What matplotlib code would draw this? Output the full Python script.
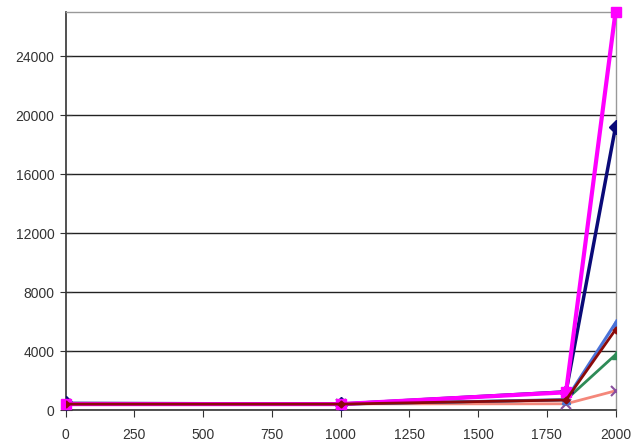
import matplotlib
matplotlib.use("Agg")
import matplotlib.pyplot as plt

plt.rcParams["font.family"] = ["Liberation Sans", "DejaVu Sans"]

years = [0, 1000, 1820, 2000]
magenta_sq = [400, 400, 1200, 27000]
navy_dia = [450, 400, 1230, 19200]
blue_tri = [400, 400, 700, 5900]
darkred = [400, 400, 680, 5450]
green_tri = [400, 400, 690, 3750]
salmon_x = [425, 416, 420, 1300]

x_ticks = list(range(0, 2001, 250))
y_ticks = list(range(0, 24001, 4000))

fig = plt.figure(figsize=(6.44, 4.46), dpi=100)
ax = fig.add_axes([65.5 / 644, 36 / 446, 550 / 644, 398 / 446])

ax.plot(years, salmon_x, color="#f4877a", lw=2, marker="x", ms=7,
        mec="#8a4f9e", mew=1.5, zorder=3)
ax.plot(years, green_tri, color="#2e8b57", lw=2, marker="^", ms=6, zorder=3)
ax.plot(years, blue_tri, color="#4a72d8", lw=2.2, marker="^", ms=6, zorder=3)
ax.plot(years, navy_dia, color="#0a0a78", lw=2.5, marker="D", ms=7, zorder=5)
ax.plot(years, magenta_sq, color="#ff00ff", lw=3, marker="s", ms=7,
        zorder=6, clip_on=False)
ax.plot(years, darkred, color="#8b0a0a", lw=2, marker="D", ms=3.5, zorder=7)

ax.set_xlim(0, 2000)
ax.set_ylim(0, 27000)
ax.set_xticks(x_ticks)
ax.set_yticks(y_ticks)
ax.yaxis.grid(True, color="#222222", lw=1)
ax.set_axisbelow(True)

for side in ["top", "right"]:
    ax.spines[side].set_color("#999999")
    ax.spines[side].set_linewidth(1)
for side in ["left", "bottom"]:
    ax.spines[side].set_color("#333333")
    ax.spines[side].set_linewidth(1.2)

ax.tick_params(axis="x", direction="out", length=5, color="#333333",
               labelsize=10, labelcolor="#333333", pad=8)
ax.tick_params(axis="y", direction="inout", length=8, color="#333333",
               labelsize=10, labelcolor="#333333", pad=4)

fig.savefig("out.png", dpi=100)
